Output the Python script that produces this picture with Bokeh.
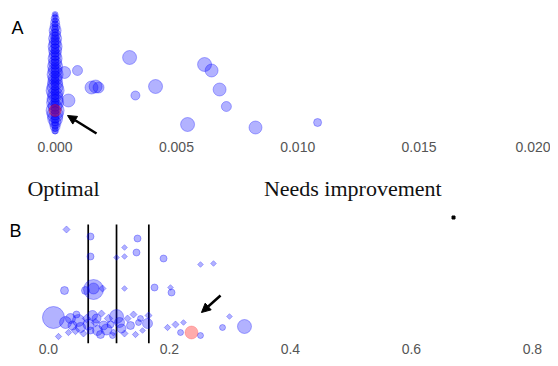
from bokeh.plotting import figure
from bokeh.models import Range1d, FixedTicker, NumeralTickFormatter, Label, Arrow, NormalHead, ColumnDataSource
from bokeh.layouts import column
from bokeh.core.properties import value
from bokeh.embed import file_html
from bokeh.resources import INLINE

# ---------------- Panel A data ----------------
a_col_x = [0.0] * 30
a_col_y = [123, 119, 115, 111, 107, 103, 99, 95, 91, 87, 83, 79, 75, 71, 67,
           63, 59, 55, 51, 47, 43, 39, 35, 31, 27, 23, 19, 15, 11, 7]
a_col_s = [6, 8, 9, 10, 12, 11, 13, 12, 14, 13, 12, 14, 13, 15, 14,
           16, 14, 15, 16, 18, 15, 16, 17, 14, 18, 16, 15, 12, 10, 7]
a_spine_x = [0.0] * 40
a_spine_y = [123, 120, 117, 114, 111, 108, 105, 102, 99, 96, 93, 90, 87, 84, 81,
             78, 75, 72, 69, 66, 63, 60, 57, 54, 51, 48, 45, 42, 39, 36,
             33, 30, 27, 24, 21, 18, 15, 12, 9, 6]
a_spine_s = [4, 5, 5, 6, 6, 7, 7, 7, 8, 8, 8, 8, 8, 8, 8,
             8, 8, 8, 8, 8, 8, 8, 8, 8, 8, 8, 8, 8, 8, 8,
             8, 8, 8, 8, 8, 8, 7, 7, 6, 5]
a_x = [0.000923, 0.00150, 0.00167, 0.00179, 0.00307, 0.00331, 0.00414, 0.00616,
       0.00645, 0.00678, 0.00706, 0.00546, 0.00826, 0.01082, 0.00055, 0.00039]
a_y = [67, 50, 51, 50, 80, 42, 51, 73, 67, 48, 31, 13, 10, 15, 37, 65]
a_s = [10, 13, 13, 11, 14, 9, 14, 14, 13, 13, 10, 14, 13, 8, 13, 12]
a_red_x = [0.0]
a_red_y = [27]
a_red_s = [12]
a_ticks = [0.0, 0.005, 0.010, 0.015, 0.020]
a_categories = ["Optimal", "Needs improvement"]
a_category_x = [0.000346, 0.01227]

# ---------------- Panel B data ----------------
b_x = [0.0299, 0.0696, 0.0696, 0.1473, 0.1258, 0.1456, 0.1258, 0.1126, 0.1903, 0.2514, 0.2729,
       0.0266, 0.0746, 0.0746, 0.0613, 0.0894, 0.1258, 0.1754, 0.2018, 0.2035,
       0.0084, 0.0167, 0.1638, 0.1655, 0.1969, 0.2101, 0.2233, 0.2184, 0.2514, 0.2878, 0.2993, 0.3241, 0.8349,
       0.0283, 0.0365, 0.0398, 0.0448, 0.0497, 0.0531, 0.0580, 0.0630, 0.0663, 0.0696, 0.0729, 0.0779,
       0.0812, 0.0861, 0.0911, 0.0960, 0.0993, 0.1026, 0.1076, 0.1126, 0.1176, 0.1209, 0.1258, 0.1308,
       0.1357, 0.1407, 0.1440, 0.1490, 0.1556, 0.1522, 0.0332, 0.0464, 0.0878, 0.1060, 0.0795]
b_y = [114, 107, 87, 105, 96, 91, 87, 86, 85, 79, 80,
       53, 54, 55, 53, 55, 55, 56, 56, 51,
       26, 7, 20, 28, 16, 19, 21, 11, 8, 16, 27, 17, 14,
       21, 25, 18, 13, 23, 16, 10, 25, 19, 13, 28, 21,
       13, 9, 18, 14, 25, 19, 11, 27, 21, 15, 10, 25,
       18, 29, 9, 21, 13, 25, 11, 29, 30, 8, 25]
b_s = [5, 7, 7, 7, 4, 7, 4, 4, 7, 4, 4,
       8, 20, 11, 8, 5, 4, 7, 4, 7,
       22, 4.5, 10, 5, 4.5, 5, 4, 6, 6, 6, 4, 14, 4,
       12, 10, 9, 6, 12, 10, 5, 6, 11, 7, 10, 6,
       10, 8, 9, 11, 6, 7, 5, 14, 10, 9, 5, 5,
       8, 5, 4.5, 6, 4, 6, 4.5, 7, 5, 6, 9]
b_m = ["d", "c", "c", "c", "d", "c", "d", "d", "c", "d", "d",
       "c", "c", "c", "c", "d", "d", "c", "d", "c",
       "c", "d", "c", "d", "d", "d", "d", "c", "c", "c", "d", "c", "d",
       "c", "c", "c", "d", "c", "c", "d", "d", "c", "c", "c", "d",
       "c", "c", "c", "c", "d", "c", "d", "c", "c", "c", "d", "d",
       "c", "d", "d", "c", "d", "c", "d", "c", "d", "c", "c"]
b_pink_x = [0.2365]
b_pink_y = [11]
b_pink_s = [13]
b_vlines = [0.0658, 0.1126, 0.166]
b_vline_top = 119
b_mark_x = [0.6696]
b_mark_y = [126]
b_ticks = [0.0, 0.2, 0.4, 0.6, 0.8]

W = 550
FILL = "blue"
AL = 0.3


def style(p, ticks, fmt):
    p.xaxis.ticker = FixedTicker(ticks=ticks)
    p.xaxis.formatter = NumeralTickFormatter(format=fmt)
    p.xaxis.axis_line_color = None
    p.xaxis.major_tick_line_color = None
    p.xaxis.minor_tick_line_color = None
    p.xaxis.major_tick_out = 0
    p.xaxis.major_tick_in = 0
    p.xaxis.major_label_text_font = "Liberation Sans"
    p.xaxis.major_label_text_font_size = "14px"
    p.xaxis.major_label_text_color = "#555555"
    p.xgrid.visible = False
    p.ygrid.visible = False
    p.outline_line_color = None
    p.min_border_left = 0
    p.min_border_right = 0
    p.min_border_top = 0


# ---------------- Panel A ----------------
pA = figure(width=W, height=168, output_backend="svg", toolbar_location=None,
            x_range=Range1d(-0.002251, 0.020420), y_range=Range1d(0, 137),
            y_axis_location=None)
style(pA, a_ticks, "0.000")
pA.xaxis.major_label_standoff = 4
pA.min_border_bottom = 31

pA.scatter(a_col_x, a_col_y, size=a_col_s, marker="circle",
           fill_color=FILL, fill_alpha=0.25, line_color=FILL, line_alpha=0.3)
pA.scatter(a_spine_x, a_spine_y, size=a_spine_s, marker="circle",
           fill_color=FILL, fill_alpha=AL, line_color=FILL, line_alpha=AL)
pA.scatter(a_x, a_y, size=a_s, marker="circle",
           fill_color=FILL, fill_alpha=AL, line_color=FILL, line_alpha=AL)
pA.scatter(a_red_x, a_red_y, size=a_red_s, marker="circle",
           fill_color="red", fill_alpha=0.35, line_color="red", line_alpha=0.3)
pA.add_layout(Arrow(end=NormalHead(size=9, fill_color="black", line_color="black"),
                    x_start=0.001707, y_start=4, x_end=0.000511, y_end=22,
                    line_width=2.5, line_color="black"))
pA.add_layout(Label(x=17, y=110, x_units="screen", y_units="screen", text="A",
                    text_font="Liberation Sans", text_font_size="18px",
                    text_align="center", text_baseline="middle", text_color="black"))

# ---------------- category captions under panel A ----------------
pL = figure(width=W, height=40, output_backend="svg", toolbar_location=None,
            x_range=pA.x_range, y_range=Range1d(0, 40),
            x_axis_location=None, y_axis_location=None)
pL.xgrid.visible = False
pL.ygrid.visible = False
pL.outline_line_color = None
pL.min_border_left = pL.min_border_right = pL.min_border_top = pL.min_border_bottom = 0
pL.text(x=a_category_x, y=[20, 20], text=a_categories,
        text_font=value("Liberation Serif"), text_font_size="22px",
        text_align="center", text_baseline="middle", text_color="#111111")

# ---------------- Panel B ----------------
pB = figure(width=W, height=150, output_backend="svg", toolbar_location=None,
            x_range=Range1d(-0.07917, 0.8299), y_range=Range1d(0, 135),
            y_axis_location=None)
style(pB, b_ticks, "0.0")
pB.xaxis.major_label_standoff = 0
pB.min_border_bottom = 15

bc = {"x": [], "y": [], "s": []}
bd = {"x": [], "y": [], "s": []}
for xx, yy, ss, mm in zip(b_x, b_y, b_s, b_m):
    d = bc if mm == "c" else bd
    d["x"].append(xx); d["y"].append(yy); d["s"].append(ss)

pB.segment(x0=b_vlines, y0=[0] * len(b_vlines), x1=b_vlines, y1=[b_vline_top] * len(b_vlines),
           line_color="black", line_width=1.7)
pB.scatter("x", "y", size="s", source=ColumnDataSource(bc), marker="circle",
           fill_color=FILL, fill_alpha=AL, line_color=FILL, line_alpha=AL)
pB.scatter("x", "y", size="s", source=ColumnDataSource(bd), marker="square", angle=0.785398,
           fill_color=FILL, fill_alpha=AL, line_color=FILL, line_alpha=AL)
pB.scatter(b_pink_x, b_pink_y, size=b_pink_s, marker="circle",
           fill_color="red", fill_alpha=0.33, line_color="red", line_alpha=0.2)
pB.scatter(b_mark_x, b_mark_y, size=3, marker="square", fill_color="black", line_color="black")
pB.add_layout(Arrow(end=NormalHead(size=9, fill_color="black", line_color="black"),
                    x_start=0.2845, y_start=48, x_end=0.253, y_end=31,
                    line_width=2.5, line_color="black"))
pB.add_layout(Label(x=15, y=113, x_units="screen", y_units="screen", text="B",
                    text_font="Liberation Sans", text_font_size="18px",
                    text_align="center", text_baseline="middle", text_color="black"))

layout = column(pA, pL, pB)
open("out.html", "w").write(file_html(layout, INLINE))
